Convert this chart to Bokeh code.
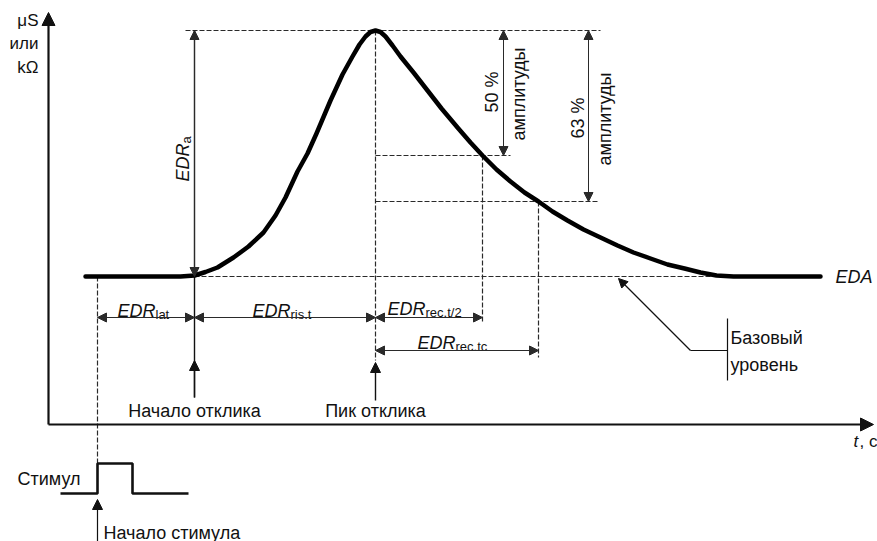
import math
from bokeh.plotting import figure
from bokeh.models import Arrow, NormalHead, Range1d
from bokeh.core.properties import value
from bokeh.embed import file_html
from bokeh.resources import INLINE

# ---- data (time units / amplitude units, origin at the axes' crossing) ----
curve_t = [37, 102, 132, 146, 157, 169, 185, 200, 215, 227, 237, 249, 259, 268, 282,
           294, 304, 311, 317, 322, 327, 332, 337, 344, 352, 365, 379, 393, 409, 422,
           434, 448, 462, 476, 490, 504, 519, 535, 552, 569, 585, 602, 619, 636, 652,
           668, 685, 722, 772]
curve_a = [148, 148, 148, 149, 152.5, 157, 167, 178, 192, 209, 227, 253, 271, 291, 324,
           350, 368, 380, 388, 392.5, 394, 392.5, 388, 379, 368, 352, 334, 316, 297, 282,
           269, 255, 243, 232, 223, 213, 204, 195, 187, 179, 172, 166, 160, 156, 152,
           149, 148, 148, 148]

event_names = ["stimulus", "onset", "peak", "rec_half", "rec_tc"]
event_t = [49, 146, 327, 434, 490]

level_names = ["baseline", "peak", "half", "tc"]
level_a = [148, 394, 269, 223]

stim_t = [12, 49, 49, 84, 84, 140]
stim_a = [-69, -69, -39, -39, -69, -69]

y_unit_labels = ["μS", "или", "kΩ"]

t_stim, t_on, t_peak, t_half, t_tc = event_t
a_base, a_peak, a_half, a_tc = level_a

FONT = value("Liberation Sans")
INK = "#111111"
THIN = "#2a2a2a"

p = figure(width=877, height=541, x_range=Range1d(-48, 829), y_range=Range1d(-117, 424),
           output_backend="svg", toolbar_location=None, min_border=0,
           x_axis_location=None, y_axis_location=None)
p.grid.grid_line_color = None
p.outline_line_color = None
p.background_fill_color = "white"


def arrow(t0, a0, t1, a1, both=False, size=9, width=1.0, color=THIN):
    head = lambda: NormalHead(size=size, fill_color=color, line_color=color, line_width=1)
    p.add_layout(Arrow(end=head(), start=head() if both else None,
                       x_start=t0, y_start=a0, x_end=t1, y_end=a1,
                       line_width=width, line_color=color))


def dashed(ts, as_):
    p.line(ts, as_, line_color=THIN, line_width=1.2, line_dash="5 2")


def txt(t, a, s, size="18px", align="left", baseline="middle", angle=0.0,
        style="normal", xo=0, yo=0):
    p.text(x=[t], y=[a], text=[s], text_font=FONT, text_font_size=size,
           text_align=align, text_baseline=baseline, angle=angle,
           text_font_style=style, text_color=INK, x_offset=xo, y_offset=yo)


# ---- axes ----
arrow(0, 0, 0, 412, size=13, width=2.2, color=INK)
arrow(0, 0, 825, 0, size=13, width=2.2, color=INK)
for lab, da in zip(y_unit_labels, [0, 23, 47]):
    txt(-10, 404 - da, lab, size="17px", align="right")
txt(805, -17, "t", size="17px", style="italic")
txt(805, -17, ", с", size="17px", xo=6)

# ---- dashed reference lines ----
dashed([t_on - 9, 552], [a_peak, a_peak])
dashed([t_peak, t_half + 28], [a_half, a_half])
dashed([t_peak, t_tc + 59], [a_tc, a_tc])
dashed([t_on, curve_t[-1]], [a_base, a_base])
dashed([t_peak, t_peak], [a_peak, a_base - 84])
dashed([t_half, t_half], [a_half, a_base - 46])
dashed([t_tc, t_tc], [a_tc, a_base - 81])
dashed([t_stim, t_stim], [a_base, stim_a[2]])

# ---- onset solid line ----
p.line([t_on, t_on], [a_peak, a_base - 121], line_color=INK, line_width=1.4)

# ---- response curve ----
p.line(curve_t, curve_a, line_color="black", line_width=4.5, line_join="round", line_cap="round")

# ---- amplitude dimension arrows ----
arrow(t_on, a_base, t_on, a_peak, both=True)
arrow(t_half + 21, a_half, t_half + 21, a_peak, both=True)
arrow(t_tc + 50, a_tc, t_tc + 50, a_peak, both=True)

# ---- time dimension arrows ----
row1 = a_base - 41
row2 = a_base - 74
arrow(t_stim, row1, t_on, row1, both=True)
arrow(t_on, row1, t_peak, row1, both=True)
arrow(t_peak, row1, t_half, row1, both=True)
arrow(t_peak, row2, t_tc, row2, both=True)

# ---- event pointer arrows ----
arrow(t_on, a_base - 121, t_on, a_base - 84, size=10, width=1.4, color=INK)
arrow(t_peak, a_base - 124, t_peak, a_base - 86, size=10, width=1.4, color=INK)
arrow(t_stim, -117, t_stim, stim_a[0] - 6, size=10, width=1.2, color=INK)

# ---- stimulus pulse ----
p.line(stim_t, stim_a, line_color=INK, line_width=2.6)

# ---- baseline callout ----
arrow(642, a_base - 74, 570, a_base - 2, size=9, width=1.2, color=INK)
p.line([642, 679], [a_base - 74, a_base - 74], line_color=INK, line_width=1.2)
p.line([679, 679], [a_base - 42, a_base - 104], line_color=INK, line_width=1.2)
txt(682, a_base - 61, "Базовый")
txt(682, a_base - 88, "уровень")

# ---- texts ----
txt(t_on, a_base - 134, "Начало отклика", align="center")
txt(t_peak, a_base - 134, "Пик отклика", align="center")
txt(t_stim - 17, -54, "Стимул", align="right")
txt(t_stim + 6, -108, "Начало стимула")
txt(curve_t[-1] + 15, a_base, "EDA", style="italic")

# EDR labels with subscripts (EDR right-aligned, subscript starts at same point)
for (t, a, sub) in [(107, row1 + 7, "lat"), (242, row1 + 7, "ris.t"),
                    (377, row1 + 9, "rec.t/2"), (407, row2 + 8, "rec.tc")]:
    txt(t, a, "EDR", size="18px", align="right", baseline="alphabetic", style="italic")
    txt(t, a, sub, size="13px", align="left", baseline="alphabetic", yo=4)

# EDRa rotated
txt(t_on - 12, 281, "EDR", size="18px", align="right", baseline="alphabetic",
    style="italic", angle=math.pi / 2)
txt(t_on - 12, 281, "a", size="13px", align="left", baseline="alphabetic",
    angle=math.pi / 2, xo=4)

# amplitude percent labels
half_mid = (a_half + a_peak) / 2
tc_mid = (a_tc + a_peak) / 2
txt(t_half + 9, half_mid + 1, "50 %", align="center", angle=math.pi / 2)
txt(t_half + 36, half_mid - 1, "амплитуды", align="center", angle=math.pi / 2)
txt(t_tc + 39, tc_mid - 2, "63 %", align="center", angle=math.pi / 2)
txt(t_tc + 66, tc_mid - 3, "амплитуды", align="center", angle=math.pi / 2)

open("out.html", "w").write(file_html(p, INLINE))
